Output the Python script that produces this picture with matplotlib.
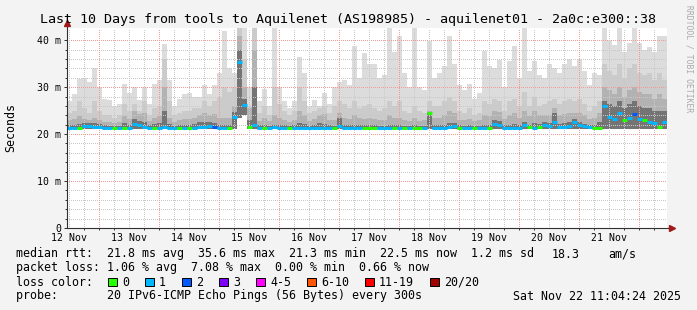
import numpy as np
import matplotlib
matplotlib.use('Agg')
import matplotlib.pyplot as plt
from matplotlib.patches import Rectangle
from datetime import datetime, timedelta

W, H = 697, 310
start = datetime(2025, 11, 12, 11, 4, 24)
step_h = 2  # une colonne = 2 heures

title = "Last 10 Days from tools to Aquilenet (AS198985) - aquilenet01 - 2a0c:e300::38"

# valeurs (ms), une valeur par colonne de 2h
smoke_max = [
    27, 28.5, 31.7, 32, 31.2, 34, 30, 27.5, 27.3, 26, 26.5, 30.7, 28.7, 30, 27.3, 30, 26.5, 30.7, 31.5, 39.1, 31.5, 26, 27.5, 28.5,
    28.7, 28, 27.8, 30.5, 28.5, 30.5, 33, 42, 34, 33, 42.6, 42.6, 30, 42.6, 27, 29.7, 26, 42.6, 30, 27, 25.5, 27, 36.5, 33,
    26, 27.3, 26, 28.7, 26.5, 30, 31, 31.5, 30.5, 38.7, 32, 37.3, 35, 35, 32, 32.5, 42.6, 37.5, 41, 33, 30, 42.6, 30, 29.5,
    39.9, 32, 33, 34.5, 40.9, 35, 30.5, 29.3, 30.7, 27.5, 28.7, 37.6, 34.5, 34, 35.8, 30, 35.6, 38.7, 32, 42.6, 33.5, 35.5, 32.5, 32,
    35, 34, 33, 35, 36, 34.5, 36, 33.5, 30.5, 33, 32.5, 42.6, 40, 39, 42.6, 37.5, 39.5, 42.6, 39.5, 38, 38.5, 37.5, 41, 41]
smoke_p90 = [
    24.5, 25, 27, 25.5, 24.5, 27, 25, 24, 24, 23.5, 24, 26.5, 25, 26.5, 25, 27, 24, 25.5, 26, 36, 27, 24, 24.5, 25,
    25, 25.5, 25.5, 27, 26, 27, 28, 30, 29, 30, 42.6, 36, 26, 42.6, 24.5, 26, 24, 30, 26.5, 25, 24, 25, 30, 27,
    24.5, 25, 25.5, 26, 24.5, 26, 27, 26.5, 25.5, 27, 25.5, 26, 26.5, 25.5, 25, 25.5, 27, 26, 27, 25, 24.5, 26, 25, 24.5,
    27, 26, 26, 27, 28, 27, 25, 24.5, 25.5, 24, 24.5, 27, 26.5, 27.5, 27, 25, 27, 27.5, 26, 29, 26, 28, 26, 26.5,
    27, 27.5, 26.5, 27, 27.5, 27, 27.5, 26.5, 25, 26, 27, 35, 33.5, 32.5, 35, 32, 34, 35, 33, 32.5, 33, 31.5, 33, 31.5]
smoke_p75 = [
    23, 23.2, 23.8, 23.2, 23, 23.5, 23, 22.6, 22.5, 22.3, 22.6, 23.8, 23.2, 25, 24.3, 24.5, 22.8, 23.5, 23.8, 30, 23.5, 22.5, 23, 23.3,
    23.2, 23.5, 24, 24.5, 24, 24.2, 23.5, 23.5, 23.5, 26, 41, 30, 25.5, 38, 22.8, 23.5, 22.8, 24, 23.5, 23, 22.6, 23, 25, 24,
    22.8, 23.3, 24, 24.2, 23, 23, 24.5, 23.5, 23.2, 24, 23.5, 23.2, 23.5, 23.2, 23, 23, 24, 23.5, 23.5, 23, 22.8, 23.5, 22.8, 23,
    25, 23.5, 23.5, 24, 25, 24.5, 23, 23, 23.3, 22.8, 23, 24, 23.8, 25, 24.8, 23.2, 24, 24.5, 23.5, 25, 23.8, 25, 24, 24,
    24, 25.5, 24, 24.2, 24.5, 24.5, 24.5, 24, 23.2, 23.5, 24.5, 30, 29.5, 28.5, 30, 28, 29.5, 30, 29, 28.5, 28.5, 27.5, 28.5, 27.5]
smoke_p60 = [
    21.9, 22, 22.1, 22.3, 22.3, 22.4, 22.2, 21.9, 21.8, 21.7, 21.8, 22.3, 22, 23.2, 22.8, 22.6, 21.9, 22.2, 22.3, 25, 22.1, 21.8, 21.9, 22,
    22, 22.2, 22.5, 22.6, 22.5, 22.4, 22, 22, 22, 24.8, 38, 27.5, 23, 30, 21.9, 22, 21.8, 22, 22, 21.9, 21.8, 21.9, 22.3, 22.1,
    21.8, 22, 22.3, 22.2, 21.9, 21.8, 23.5, 22, 21.9, 22, 22, 21.9, 22, 21.9, 21.8, 21.8, 22, 21.9, 22, 21.8, 21.7, 21.9, 21.7, 21.8,
    24.5, 21.9, 21.9, 22, 22.4, 22.4, 21.9, 21.8, 21.9, 21.7, 21.8, 22, 22, 23, 22.8, 21.9, 22, 22.1, 22, 22.6, 22, 22.3, 22.2, 22.6,
    22.3, 24.5, 22.2, 22.3, 22.5, 23.2, 22.5, 22.2, 22, 22, 22.5, 27, 26.5, 26, 27, 25.5, 26.5, 27, 26, 25.5, 25.5, 25, 25, 25]
smoke_min = [
    21, 21, 21, 21, 21, 21, 21, 21, 21, 21, 21, 21, 21, 21, 21, 21, 21, 21, 21, 21, 21, 21, 21, 21,
    21, 21, 21, 21, 21, 21, 21, 21, 21, 21, 23.5, 24, 21, 21, 21, 21, 21, 21, 21, 21, 21, 21, 21, 21,
    21, 21, 21, 21, 21, 21, 21, 21, 21, 21, 21, 21, 21, 21, 21, 21, 21, 21, 21, 21, 21, 21, 21, 21,
    21, 21, 21, 21, 21, 21, 21, 21, 21, 21, 21, 21, 21, 21, 21, 21, 21, 21, 21, 21, 21, 21, 21, 21,
    21, 21, 21, 21, 21, 21, 21, 21, 21, 21, 21, 21.1, 21.1, 21.1, 21.1, 21.1, 21.1, 21.1, 21.1, 21.1, 21.1, 21.1, 21.1, 21.1]
median = [
    21.3, 21.3, 21.3, 21.8, 21.7, 21.6, 21.6, 21.4, 21.3, 21.2, 21.2, 21.4, 21.3, 22.1, 21.9, 21.6, 21.4, 21.3, 21.4, 21.5, 21.4, 21.3, 21.3, 21.3,
    21.3, 21.3, 21.6, 21.6, 21.7, 21.5, 21.3, 21.3, 21.3, 23.6, 35.3, 26.2, 21.5, 21.9, 21.4, 21.3, 21.3, 21.6, 21.3, 21.3, 21.2, 21.3, 21.3, 21.4,
    21.3, 21.3, 21.4, 21.4, 21.3, 21.3, 21.8, 21.4, 21.3, 21.3, 21.3, 21.3, 21.3, 21.3, 21.3, 21.3, 21.4, 21.3, 21.3, 21.2, 21.3, 21.2, 21.3, 21.3,
    24.5, 21.3, 21.3, 21.3, 21.6, 21.7, 21.4, 21.3, 21.3, 21.2, 21.3, 21.3, 21.4, 22.2, 22, 21.4, 21.3, 21.4, 21.4, 21.9, 21.5, 21.3, 21.5, 22,
    21.7, 22.6, 21.6, 21.6, 21.7, 22.5, 21.9, 21.7, 21.6, 21.4, 21.4, 25.9, 23.6, 23.3, 24.5, 22.9, 23.5, 24.2, 23.2, 23, 22.6, 22.4, 21.5, 22.6]
# nombre de pings perdus (sur 20) par colonne
loss = [
    1, 1, 0, 1, 1, 1, 1, 1, 1, 0, 1, 0, 1, 1, 1, 1, 1, 0, 1, 1, 1, 1, 0, 1,
    0, 1, 1, 1, 1, 2, 1, 1, 0, 1, 1, 1, 0, 1, 1, 0, 1, 1, 1, 1, 0, 1, 1, 1,
    1, 1, 1, 1, 1, 0, 1, 1, 1, 1, 1, 0, 0, 0, 1, 1, 1, 0, 1, 0, 1, 0, 0, 1,
    0, 1, 1, 1, 1, 1, 0, 1, 1, 0, 1, 1, 0, 1, 1, 1, 1, 1, 1, 1, 0, 1, 0, 1,
    1, 1, 1, 1, 1, 1, 1, 1, 1, 0, 0, 1, 1, 1, 1, 0, 1, 2, 1, 0, 1, 1, 0, 1]

legend_labels = ['0', '1', '2', '3', '4-5', '6-10', '11-19', '20/20']
legend_colors = ['#26ff00', '#00b8ff', '#0059ff', '#7e00ff', '#ff00ff', '#ff5500', '#ff0000', '#a10000']
y_ticks = [0, 10, 20, 30, 40]
y_ticklabels = ['0', '10 m', '20 m', '30 m', '40 m']

rtt_line = 'median rtt:  21.8 ms avg  35.6 ms max  21.3 ms min  22.5 ms now  1.2 ms sd'
rtt_extra = [('18.3', 552), ('am/s', 608)]
loss_line = 'packet loss: 1.06 % avg  7.08 % max  0.00 % min  0.66 % now'
probe_line = 'probe:       20 IPv6-ICMP Echo Pings (56 Bytes) every 300s'
legend_x = [108, 145, 182, 219, 256, 307, 365, 430]
date_txt = 'Sat Nov 22 11:04:24 2025'


def color_for(l):
    if l <= 3:
        return legend_colors[l]
    if l <= 5:
        return legend_colors[4]
    if l <= 10:
        return legend_colors[5]
    if l <= 19:
        return legend_colors[6]
    return legend_colors[7]


def hours(dt):
    return (dt - start).total_seconds() / 3600.0


plt.rcParams['font.family'] = ['DejaVu Sans Mono']

fig = plt.figure(figsize=(W / 100, H / 100), dpi=100, facecolor='#f3f3f3')
ax = fig.add_axes([67 / W, 82 / H, 600 / W, 200 / H])
ax.set_facecolor('white')
ax.set_xlim(0, 240)
ax.set_ylim(0, 42.6)

x = np.arange(len(median)) * step_h
lo = np.array(smoke_min)
for top, col in [(smoke_max, '#dcdcdc'), (smoke_p90, '#cbcbcb'),
                 (smoke_p75, '#b2b2b2'), (smoke_p60, '#747474')]:
    ax.bar(x, np.array(top) - lo, bottom=lo, width=step_h, align='edge',
           color=col, linewidth=0, zorder=2)

# grille
for v in np.arange(2, 42, 2):
    major = v % 10 == 0
    ax.axhline(v, color='#f29a9a' if major else '#c8c8c8', lw=0.72,
               ls=(0, (1, 1.5)), zorder=3, antialiased=False)
t = datetime(2025, 11, 12, 12)
minor_pos = []
while t < start + timedelta(days=10):
    h = hours(t)
    minor_pos.append(h)
    ax.axvline(h, color='#f29a9a' if t.hour == 0 else '#c8c8c8', lw=0.72,
               ls=(0, (1, 1.5)), zorder=3, antialiased=False)
    t += timedelta(hours=6)

# ligne mediane coloree selon les pertes
segs = ax.hlines(median, x, x + step_h, colors=[color_for(l) for l in loss],
                 lw=2.2, zorder=5)
segs.set_capstyle('butt')

# axes
for s in ax.spines.values():
    s.set_visible(False)
ax.plot([0, 0], [0, 1.02], transform=ax.transAxes, color='#303030', lw=0.8,
        clip_on=False, zorder=6)
ax.plot([0, 1.006], [0, 0], transform=ax.transAxes, color='#303030', lw=0.8,
        clip_on=False, zorder=6)
ax.plot([0], [1.025], marker='^', ms=4.5, color='#a01818', transform=ax.transAxes,
        clip_on=False, zorder=7)
ax.plot([1.008], [0], marker='>', ms=4.5, color='#a01818', transform=ax.transAxes,
        clip_on=False, zorder=7)

ax.set_yticks(y_ticks)
ax.set_yticklabels(y_ticklabels)
ax.set_yticks(np.arange(0, 42, 2), minor=True)
ax.tick_params(axis='y', which='major', length=2.2, width=0.7, pad=2.2,
               labelsize=7.1, color='#303030')
ax.tick_params(axis='y', which='minor', length=1.4, width=0.7, color='#303030')

noon = [hours(datetime(2025, 11, d, 12)) for d in range(12, 22)]
ax.set_xticks(noon)
ax.set_xticklabels(['%d Nov' % d for d in range(12, 22)])
ax.set_xticks(minor_pos, minor=True)
ax.tick_params(axis='x', which='major', length=0, pad=3.8, labelsize=7.1)
ax.tick_params(axis='x', which='minor', length=1.4, width=0.7, color='#303030')


def ftext(px, py, s, **kw):
    kw.setdefault('fontsize', 8.4)
    kw.setdefault('va', 'center')
    fig.text(px / W, 1 - py / H, s, **kw)


ftext(348, 19, title, ha='center', fontsize=9.6)
ftext(11, 127, 'Seconds', ha='center', rotation=90)
ftext(689, 5, 'RRDTOOL / TOBI OETIKER', ha='center', va='top', rotation=270,
      fontsize=5.8, color='#aaaaaa')

ftext(16, 254, rtt_line)
for s, px in rtt_extra:
    ftext(px, 254, s)
ftext(16, 268, loss_line)
ftext(16, 282, 'loss color:')
for lab, col, px in zip(legend_labels, legend_colors, legend_x):
    fig.patches.append(Rectangle((px / W, 1 - 286 / H), 8.5 / W, 8.5 / H,
                                 transform=fig.transFigure, facecolor=col,
                                 edgecolor='black', lw=0.7))
    ftext(px + 14, 282, lab)
ftext(16, 296, probe_line)
ftext(681, 296, date_txt, ha='right')

fig.savefig('out.png', dpi=100, facecolor=fig.get_facecolor())
